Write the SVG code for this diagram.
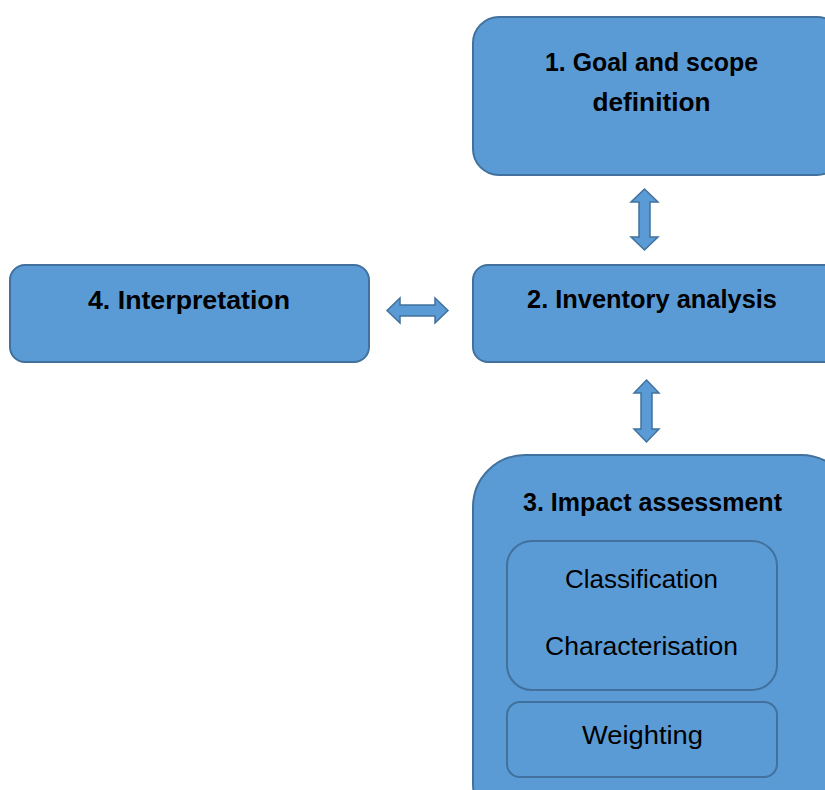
<svg xmlns="http://www.w3.org/2000/svg" width="825" height="790" viewBox="0 0 825 790">
<style>
.box{fill:#5B9BD5;stroke:#41719C;stroke-width:2}
.arr{fill:#5B9BD5;stroke:#41719C;stroke-width:1.5;stroke-linejoin:miter}
.b{font-family:"Liberation Sans",Arial,sans-serif;font-weight:bold;font-size:26px;fill:#000;text-anchor:middle}
.r{font-family:"Liberation Sans",Arial,sans-serif;font-size:26px;fill:#000;text-anchor:middle}
</style>
<rect width="825" height="790" fill="#fff"/>
<g id="node1">
<rect class="box" x="473" y="17" width="370" height="158" rx="26"/>
<text class="b" x="651.5" y="71" textLength="213" lengthAdjust="spacingAndGlyphs">1. Goal and scope</text>
<text class="b" x="651.5" y="111" textLength="118" lengthAdjust="spacingAndGlyphs">definition</text>
</g>
<g id="node2">
<rect class="box" x="473" y="265" width="370" height="97" rx="15"/>
<text class="b" x="652" y="308" textLength="250" lengthAdjust="spacingAndGlyphs">2. Inventory analysis</text>
</g>
<g id="node4">
<rect class="box" x="10" y="265" width="359" height="97" rx="15"/>
<text class="b" x="189" y="309" textLength="202" lengthAdjust="spacingAndGlyphs">4. Interpretation</text>
</g>
<g id="node3">
<rect class="box" x="473" y="455" width="380" height="380" rx="52"/>
<text class="b" x="652.5" y="511" textLength="259" lengthAdjust="spacingAndGlyphs">3. Impact assessment</text>
<g id="node3a">
<rect class="box" x="507" y="541" width="270" height="149" rx="25"/>
<text class="r" x="641.5" y="588" textLength="153" lengthAdjust="spacingAndGlyphs">Classification</text>
<text class="r" x="641.5" y="655" textLength="193" lengthAdjust="spacingAndGlyphs">Characterisation</text>
</g>
<g id="node3b">
<rect class="box" x="507" y="702" width="270" height="75" rx="13"/>
<text class="r" x="642.5" y="744" textLength="121" lengthAdjust="spacingAndGlyphs">Weighting</text>
</g>
</g>
<g id="connectors">
<polygon class="arr" points="644.5,189 658,202 650,202 650,237 658,237 644.5,250 631,237 639,237 639,202 631,202"/>
<polygon class="arr" points="646.5,380 659,393 652,393 652,429 659,429 646.5,442 634,429 641,429 641,393 634,393"/>
<polygon class="arr" points="387,310.5 400,298 400,305 435,305 435,298 448,310.5 435,323 435,316 400,316 400,323"/>
</g>
</svg>
